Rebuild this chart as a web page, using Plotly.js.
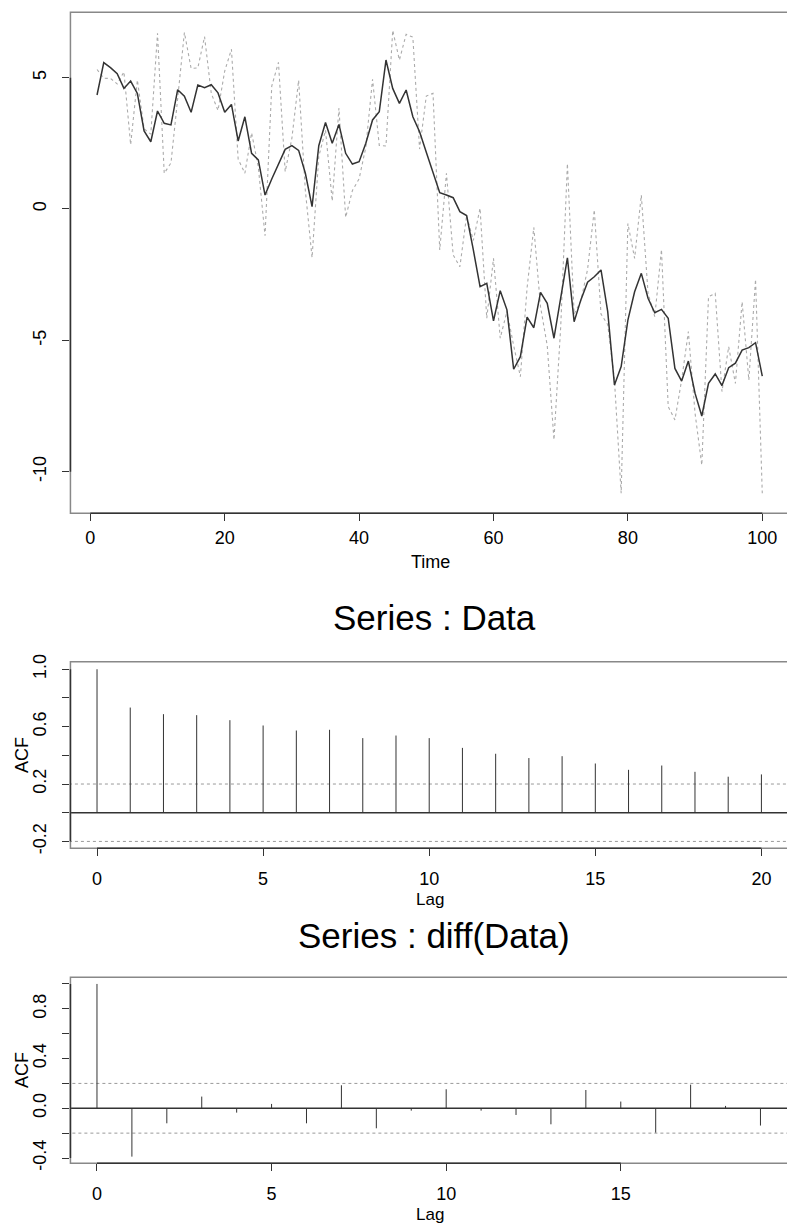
<!DOCTYPE html>
<html>
<head>
<meta charset="utf-8">
<script src="https://cdn.plot.ly/plotly-3.0.1.min.js"></script>
<style>html,body{margin:0;padding:0;background:#fff;}#chart{width:787px;height:1228px;}</style>
</head>
<body>
<div id="chart"></div>
<script>
// ---------- DATA ----------
const timeIndex = Array.from({length: 100}, (_, i) => i + 1);

const seriesSolid = [
  4.34, 5.57, 5.38, 5.15, 4.59, 4.87, 4.40, 2.97, 2.56, 3.73,
  3.26, 3.20, 4.54, 4.29, 3.68, 4.72, 4.62, 4.73, 4.42, 3.68,
  3.98, 2.59, 3.51, 2.12, 1.87, 0.53, 1.14, 1.74, 2.27, 2.41,
  2.23, 1.36, 0.09, 2.41, 3.29, 2.50, 3.22, 2.12, 1.71, 1.80,
  2.50, 3.39, 3.70, 5.67, 4.59, 4.02, 4.53, 3.51, 2.94, 2.16,
  1.42, 0.62, 0.53, 0.43, -0.10, -0.25, -1.56, -2.96, -2.83, -4.26,
  -3.11, -3.84, -6.10, -5.62, -4.12, -4.52, -3.17, -3.59, -4.92, -3.34,
  -1.86, -4.29, -3.46, -2.79, -2.58, -2.32, -3.91, -6.70, -6.00, -4.23,
  -3.15, -2.45, -3.40, -3.95, -3.82, -4.16, -6.07, -6.55, -5.79, -7.02,
  -7.88, -6.64, -6.28, -6.72, -6.04, -5.87, -5.37, -5.28, -5.09, -6.36
];

const seriesDotted = [
  5.31, 4.98, 4.97, 4.76, 5.22, 2.45, 4.91, 3.05, 2.85, 6.69,
  1.36, 1.75, 4.20, 6.72, 5.35, 5.37, 6.56, 4.40, 3.75, 5.25,
  6.08, 1.90, 1.36, 2.90, 1.60, -1.02, 4.68, 5.58, 1.42, 2.70,
  4.90, 0.70, -1.85, 2.00, 3.00, 0.30, 3.84, -0.32, 0.70, 1.15,
  2.35, 4.94, 2.42, 2.40, 6.80, 5.67, 6.65, 6.54, 2.28, 4.30,
  4.40, -1.56, 1.36, -1.75, -2.20, -0.25, -1.20, 0.03, -4.16, -1.88,
  -4.92, -3.90, -5.20, -6.38, -3.00, -0.70, -3.72, -5.20, -8.79, -4.50,
  1.73, -4.00, -3.50, -2.30, -0.03, -4.00, -4.40, -6.50, -10.82, -0.55,
  -1.88, 0.53, -3.21, -4.10, -1.54, -7.52, -8.03, -6.51, -4.67, -7.78,
  -9.75, -3.34, -3.21, -6.95, -5.24, -6.64, -3.53, -6.51, -2.68, -10.82
];

const lagsData = Array.from({length: 21}, (_, i) => i);
const acfData = [
  1.000, 0.733, 0.687, 0.680, 0.645, 0.608, 0.573, 0.578, 0.520, 0.538,
  0.520, 0.452, 0.411, 0.381, 0.394, 0.343, 0.299, 0.329, 0.285, 0.251, 0.267
];

const lagsDiff = Array.from({length: 20}, (_, i) => i);
const acfDiff = [
  1.000, -0.389, -0.121, 0.094, -0.035, 0.035, -0.121, 0.185, -0.161, -0.019,
  0.153, -0.019, -0.054, -0.129, 0.147, 0.054, -0.196, 0.190, 0.019, -0.139
];

const confLimit = 0.2;

const timeTicks = [0, 20, 40, 60, 80, 100];
const valueTicks = [-10, -5, 0, 5];
const valueTickText = ['-10', '-5', '0', '5'];
const lagTicksData = [0, 5, 10, 15, 20];
const lagTicksDiff = [0, 5, 10, 15];
const acfTicksData = [-0.2, 0.0, 0.2, 0.4, 0.6, 0.8, 1.0];
const acfTickTextData = ['-0.2', '', '0.2', '', '0.6', '', '1.0'];
const acfTicksDiff = [-0.4, -0.2, 0.0, 0.2, 0.4, 0.6, 0.8, 1.0];
const acfTickTextDiff = ['-0.4', '', '0.0', '', '0.4', '', '0.8', ''];

// ---------- BUILD ----------
function stems(lags, vals) {
  const x = [], y = [];
  lags.forEach((l, i) => { x.push(l, l, null); y.push(0, vals[i], null); });
  return {x, y};
}
const sD = stems(lagsData, acfData);
const sF = stems(lagsDiff, acfDiff);

const FONT = 'Liberation Sans, Arial, Helvetica, sans-serif';
const dark = '#333333';

const traces = [
  {x: timeIndex, y: seriesDotted, xaxis: 'x', yaxis: 'y', mode: 'lines',
   line: {color: '#ababab', width: 1.1, dash: 'dot'}, hoverinfo: 'skip'},
  {x: timeIndex, y: seriesSolid, xaxis: 'x', yaxis: 'y', mode: 'lines',
   line: {color: '#333333', width: 1.5}, hoverinfo: 'skip'},

  {x: [-5, 30], y: [confLimit, confLimit], xaxis: 'x2', yaxis: 'y2', mode: 'lines',
   line: {color: '#999', width: 1, dash: 'dot'}, hoverinfo: 'skip'},
  {x: [-5, 30], y: [-confLimit, -confLimit], xaxis: 'x2', yaxis: 'y2', mode: 'lines',
   line: {color: '#999', width: 1, dash: 'dot'}, hoverinfo: 'skip'},
  {x: [-5, 30], y: [0, 0], xaxis: 'x2', yaxis: 'y2', mode: 'lines',
   line: {color: dark, width: 1.3}, hoverinfo: 'skip'},
  {x: sD.x, y: sD.y, xaxis: 'x2', yaxis: 'y2', mode: 'lines',
   line: {color: dark, width: 1}, hoverinfo: 'skip'},

  {x: [-5, 30], y: [confLimit, confLimit], xaxis: 'x3', yaxis: 'y3', mode: 'lines',
   line: {color: '#999', width: 1, dash: 'dot'}, hoverinfo: 'skip'},
  {x: [-5, 30], y: [-confLimit, -confLimit], xaxis: 'x3', yaxis: 'y3', mode: 'lines',
   line: {color: '#999', width: 1, dash: 'dot'}, hoverinfo: 'skip'},
  {x: [-5, 30], y: [0, 0], xaxis: 'x3', yaxis: 'y3', mode: 'lines',
   line: {color: dark, width: 1.3}, hoverinfo: 'skip'},
  {x: sF.x, y: sF.y, xaxis: 'x3', yaxis: 'y3', mode: 'lines',
   line: {color: dark, width: 1}, hoverinfo: 'skip'}
];

const tickFont = {family: FONT, size: 18, color: '#000'};
function xax(range, tickvals, anchor, standoff) {
  return {domain: [0.0895, 1], range: range, anchor: anchor, tickmode: 'array', tickvals: tickvals,
    ticks: 'outside', ticklen: 7, tickcolor: dark, tickwidth: 1, showline: false, showgrid: false,
    zeroline: false, tickfont: tickFont, ticklabelstandoff: standoff, fixedrange: true};
}
function yax(domain, range, tickvals, ticktext, anchor) {
  return {domain: domain, range: range, anchor: anchor, tickmode: 'array', tickvals: tickvals,
    ticktext: ticktext,
    ticks: 'outside', ticklen: 7, tickcolor: dark, tickwidth: 1, showline: false, showgrid: false,
    zeroline: false, tickfont: tickFont, tickangle: -90, ticklabelstandoff: 9, fixedrange: true};
}

function boxShapes(xr, yr, xt, yt) {
  return [
    {type: 'rect', xref: xr + ' domain', yref: yr + ' domain', x0: 0, x1: 1.01, y0: 0, y1: 1,
     line: {color: '#888', width: 1.5}, fillcolor: 'rgba(0,0,0,0)'},
    {type: 'line', xref: xr, yref: yr + ' domain', x0: Math.min(...xt), x1: Math.max(...xt), y0: 0, y1: 0,
     line: {color: dark, width: 1.5}},
    {type: 'line', xref: xr + ' domain', yref: yr, x0: 0, x1: 0, y0: Math.min(...yt), y1: Math.max(...yt),
     line: {color: dark, width: 1.5}}
  ];
}

const layout = {
  width: 787, height: 1228, margin: {l: 0, r: 0, t: 0, b: 0},
  paper_bgcolor: '#fff', plot_bgcolor: '#fff', showlegend: false,
  font: {family: FONT, color: '#000'},
  xaxis: xax([-2.96, 103.68], timeTicks, 'y', 1),
  yaxis: yax([0.582, 0.990], [-11.584, 7.488], valueTicks, valueTickText, 'x'),
  xaxis2: xax([-0.8, 20.77], lagTicksData, 'y2', 7),
  yaxis2: yax([0.3092, 0.4612], [-0.248, 1.053], acfTicksData, acfTickTextData, 'x2'),
  xaxis3: xax([-0.76, 19.76], lagTicksDiff, 'y3', 7),
  yaxis3: yax([0.0527, 0.2042], [-0.4425, 1.054], acfTicksDiff, acfTickTextDiff, 'x3'),
  shapes: [].concat(
    boxShapes('x', 'y', timeTicks, valueTicks),
    boxShapes('x2', 'y2', lagTicksData, [-0.2, 1.0]),
    boxShapes('x3', 'y3', lagTicksDiff, [-0.4, 1.0])
  ),
  annotations: [
    {text: 'Time', xref: 'paper', yref: 'paper', x: 430/787, y: (1228-562)/1228, showarrow: false,
     xanchor: 'center', yanchor: 'middle', font: {family: FONT, size: 18}},
    {text: 'Series : Data', xref: 'paper', yref: 'paper', x: 434/787, y: (1228-617)/1228, showarrow: false,
     xanchor: 'center', yanchor: 'middle', font: {family: FONT, size: 35}},
    {text: 'ACF', xref: 'paper', yref: 'paper', x: 22/787, y: (1228-755)/1228, showarrow: false,
     textangle: -90, xanchor: 'center', yanchor: 'middle', font: {family: FONT, size: 18}},
    {text: 'Lag', xref: 'paper', yref: 'paper', x: 430/787, y: (1228-899)/1228, showarrow: false,
     xanchor: 'center', yanchor: 'middle', font: {family: FONT, size: 17}},
    {text: 'Series : diff(Data)', xref: 'paper', yref: 'paper', x: 434/787, y: (1228-935)/1228, showarrow: false,
     xanchor: 'center', yanchor: 'middle', font: {family: FONT, size: 35}},
    {text: 'ACF', xref: 'paper', yref: 'paper', x: 22/787, y: (1228-1070)/1228, showarrow: false,
     textangle: -90, xanchor: 'center', yanchor: 'middle', font: {family: FONT, size: 18}},
    {text: 'Lag', xref: 'paper', yref: 'paper', x: 430/787, y: (1228-1214)/1228, showarrow: false,
     xanchor: 'center', yanchor: 'middle', font: {family: FONT, size: 17}}
  ]
};

Plotly.newPlot('chart', traces, layout, {staticPlot: true, displayModeBar: false});
</script>
</body>
</html>
